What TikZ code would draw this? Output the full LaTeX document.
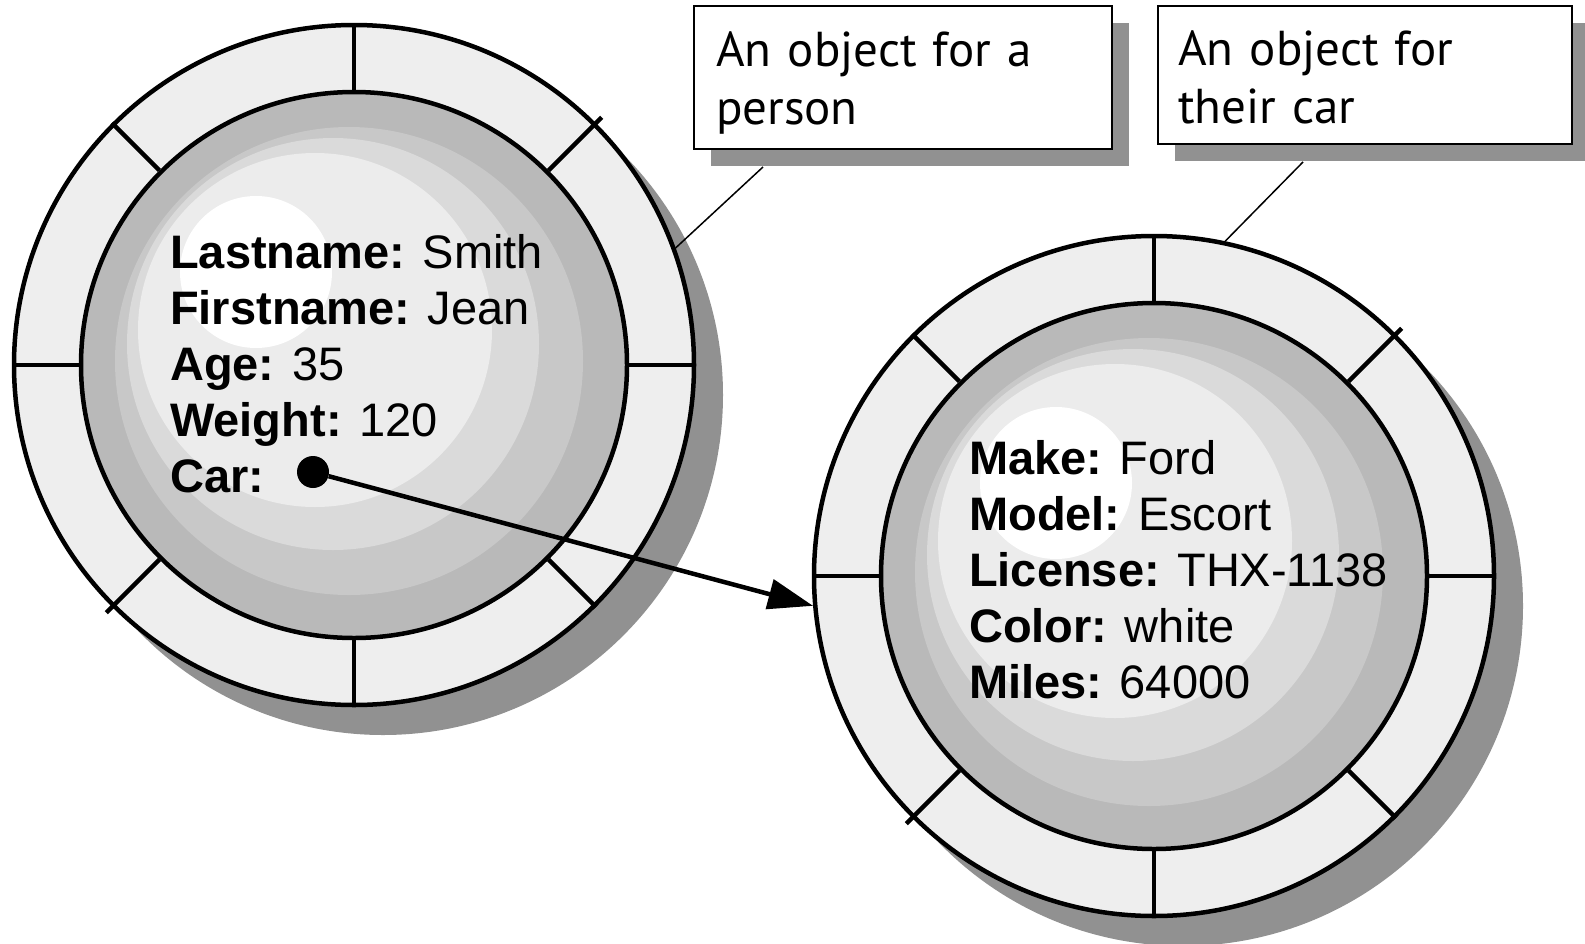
\documentclass[tikz,border=0pt]{standalone}
\usepackage{fontspec}
\setmainfont{Liberation Sans}
\newfontfamily\notefont{PT Sans}
\usetikzlibrary{positioning,arrows.meta,shadows}
\definecolor{ringfill}{HTML}{EEEEEE}
\definecolor{shadowgray}{HTML}{919191}
\definecolor{band0}{HTML}{B9B9B9}
\definecolor{bandA}{HTML}{C8C8C8}
\definecolor{bandB}{HTML}{DADADA}
\definecolor{bandC}{HTML}{ECECEC}

\begin{document}
\begin{tikzpicture}[x=1pt,y=-1pt,
  ring/.style={circle,draw,line width=4.5pt,fill=ringfill,minimum size=680pt,inner sep=0pt,
               drop shadow={shadow xshift=29pt,shadow yshift=-30pt,fill=shadowgray,opacity=1}},
  core/.style={circle,draw,line width=4.5pt,fill=band0,minimum size=546pt,inner sep=0pt},
  fields/.style={font=\fontsize{47}{56}\selectfont,align=left,inner sep=0pt,anchor=base west},
  note/.style={draw,line width=2pt,fill=white,anchor=north west,align=left,text width=374pt,
               inner xsep=22pt,inner ysep=0pt,font=\notefont\fontsize{49}{58}\selectfont,
               drop shadow={shadow xshift=17pt,shadow yshift=-17pt,fill=shadowgray,opacity=1}},
  tick/.style={line width=4.5pt},
  callout/.style={line width=1.5pt},
  ptr/.style={line width=4.5pt,-{Triangle[length=45pt,width=30pt]}}]
\useasboundingbox (0,0) rectangle (1585,943);
% the two objects
\node[ring] (person-ring) at (354,365) {};
\node[core] (person-core) at (person-ring) {};
\node[ring] (car-ring) at (1154,576) {};
\node[core] (car-core) at (car-ring) {};
\foreach \obj in {person,car}
  \foreach \dx/\dy/\r/\tone in {-5/-4/234/bandA,-21/-21/206/bandB,-39/-35/177/bandC,-98/-93/76/white}
    \fill[\tone] ([shift={(\dx,\dy)}]\obj-core.center) circle[radius=\r pt];
\foreach \obj in {person,car}
  \foreach \a/\ext in {0/0,45/8,90/0,135/0,180/0,225/8,270/0,315/0}
    \draw[tick,shorten >=-\ext pt] (\obj-core.\a) -- (\obj-ring.\a);
\node[fields] (person) at (170,492) {\textbf{Lastname:} Smith\\\textbf{Firstname:} Jean\\\textbf{Age:} 35\\\textbf{Weight:} 120\\\textbf{Car:}};
\node[fields] (car) at (969,698) {\textbf{Make:} Ford\\\textbf{Model:} Escort\\\textbf{License:} THX-1138\\\textbf{Color:} white\\\textbf{Miles:} 64000};
\node[circle,fill,minimum size=32pt,inner sep=0pt] (car-dot) at (313,472) {};
% callouts
\node[note,minimum height=143pt] (person-note) at (693,5) {\rule{0pt}{45pt}An object for a\\person};
\node[note,minimum height=138pt,inner xsep=20pt] (car-note) at (1157,5) {\rule{0pt}{40pt}An object for\\their car};
\draw[callout] ([xshift=70pt,yshift=-17pt]person-note.south west) -- (person-ring.20);
\draw[callout] ([xshift=146pt,yshift=-17pt]car-note.south west) -- (car-ring.78);
\draw[ptr] (car-dot) -- (car-ring.185);
\end{tikzpicture}
\end{document}
